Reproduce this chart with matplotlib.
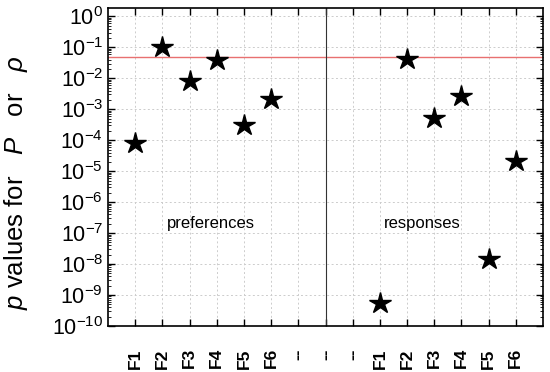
import numpy as np
import matplotlib
matplotlib.use('Agg')
from matplotlib import pyplot as plt
from matplotlib.ticker import FixedLocator, LogLocator, NullFormatter

plt.rcParams['font.family'] = ['Liberation Sans', 'DejaVu Sans']
plt.rcParams['mathtext.fontset'] = 'custom'
plt.rcParams['mathtext.rm'] = 'Liberation Sans'
plt.rcParams['mathtext.it'] = 'Liberation Sans:italic'

# data
tick_labels = ['F1', 'F2', 'F3', 'F4', 'F5', 'F6', '--', '--', '--',
               'F1', 'F2', 'F3', 'F4', 'F5', 'F6']
pref_pos = [1, 2, 3, 4, 5, 6]
pref_p = [8.0e-5, 0.1, 8.2e-3, 4.0e-2, 3.0e-4, 2.1e-3]
resp_pos = [10, 11, 12, 13, 14, 15]
resp_p = [5.4e-10, 4.2e-2, 5.4e-4, 2.6e-3, 1.45e-8, 2.2e-5]
alpha = 0.05

fig = plt.figure(figsize=(5.5, 3.72), dpi=100)
ax = fig.add_axes([108/550, 1-326/372, 435/550, 318/372])

ax.set_yscale('log')
ax.set_ylim(1e-10, 10**0.27)
ax.set_xlim(0, 16)

ax.grid(True, which='major', ls=(0, (2, 2.5)), color='#cccccc', lw=0.7)
ax.set_axisbelow(True)

ax.axhline(alpha, color='#e87070', lw=1)
ax.axvline(8, color='#333333', lw=0.8)

ax.plot(pref_pos, pref_p, ls='none', marker='*', ms=16, color='black')
ax.plot(resp_pos, resp_p, ls='none', marker='*', ms=16, color='black')

ax.text(3.8, 2e-7, 'preferences', ha='center', va='center', fontsize=12)
ax.text(11.55, 2e-7, 'responses', ha='center', va='center', fontsize=12)

ax.xaxis.set_major_locator(FixedLocator(range(1, 16)))
ax.set_xticklabels(tick_labels, rotation=90, fontweight='bold')
ax.yaxis.set_major_locator(FixedLocator([10.0**-k for k in range(11)]))
ax.yaxis.set_minor_locator(LogLocator(base=10, subs=np.arange(2, 10), numticks=20))
ax.yaxis.set_minor_formatter(NullFormatter())
ax.tick_params(axis='both', which='major', direction='in', top=True, right=True,
               length=5, width=1, labelsize=15.5)
ax.tick_params(axis='x', which='major', pad=16, labelsize=12.5)
ax.tick_params(axis='y', which='minor', direction='in', left=True, right=True,
               length=2.5, width=0.6)
for s in ax.spines.values():
    s.set_linewidth(1.2)

ax.set_ylabel(r'$p$ values for   $P$   or   $\rho$', fontsize=18.5)
ax.yaxis.set_label_coords(-0.18, 0.45)

fig.savefig('out.png', dpi=100)
